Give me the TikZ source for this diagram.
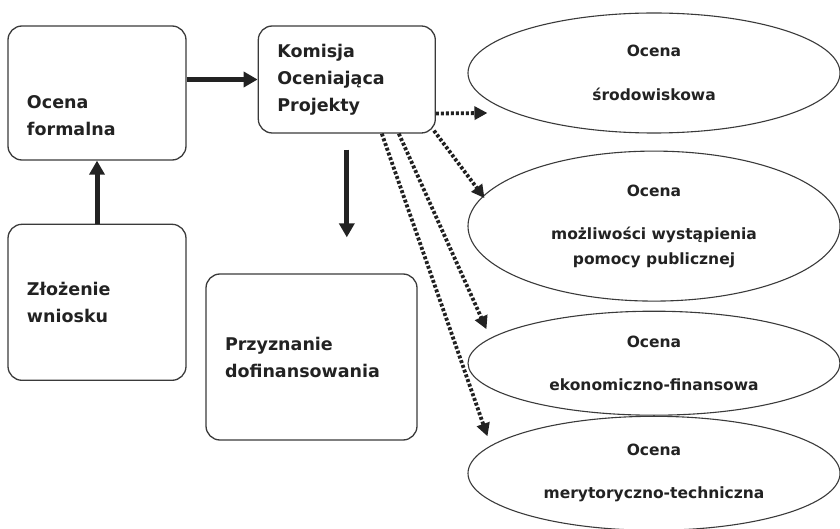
\documentclass[tikz,border=0pt]{standalone}
\usepackage{fontspec}
\setmainfont{DejaVu Sans}
\usetikzlibrary{positioning,shapes,arrows.meta}
\definecolor{ink}{HTML}{3A3A3A}
\definecolor{print}{HTML}{222222}
\tikzstyle{stage}=[draw=ink,line width=1.3pt,rounded corners=14pt,align=left,
  inner xsep=19pt,text=print,font=\bfseries\fontsize{17.5}{27}\selectfont]
\tikzstyle{assess}=[draw=ink,ellipse,line width=1.1pt,inner sep=0pt,minimum width=372pt,
  align=center,text=print,font=\bfseries\fontsize{15.5}{25}\selectfont]
\tikzstyle{pass}=[->,draw=print,line width=5pt]
\tikzstyle{review}=[-{Triangle[length=13pt,width=13pt]},draw=print,line width=3.8pt,
  dash pattern=on 3pt off 2pt]
\newcommand{\stagebox}[3]{\node[stage,#2] (#1) {#3};}
\newcommand{\flow}[3]{\draw[#3] (#1) -- (#2);}

\begin{document}
\begin{tikzpicture}[x=1pt,y=-1pt,node distance=63pt and 71pt,
      >={Triangle[length=14pt,width=15pt]}
      ]
      \useasboundingbox (0,0) rectangle (840,529);
      % etapy wniosku
      \stagebox{formalna}{at={(97,93)},minimum width=178pt,minimum height=134pt,text width=140pt}{\mbox{}\\[31pt]Ocena\\formalna}
      \stagebox{zlozenie}{below=of formalna,minimum width=178pt,minimum height=156pt,text width=140pt}{Złożenie\\wniosku}
      \stagebox{komisja}{right=of formalna.north east,anchor=north west,minimum width=177pt,minimum height=107pt,text width=139pt}{Komisja\\Oceniająca\\Projekty}
      \stagebox{przyznanie}{at={(311.5,357)},minimum width=211pt,minimum height=166pt,text width=173pt}{Przyznanie\\dofinansowania}
      
      % oceny
      \node[assess,minimum height=120pt] (srod) at (654,73) {Ocena\\[19pt]środowiskowa};
      \node[assess,minimum height=150pt,below=17pt of srod] (pomoc) {Ocena\\[18pt]możliwości wystąpienia\\pomocy publicznej};
      \node[assess,minimum height=104pt,below=9pt of pomoc] (ekon) {Ocena\\[18pt]ekonomiczno-finansowa};
      \node[assess,minimum height=114pt,below=0pt of ekon] (meryt) {Ocena\\[18pt]merytoryczno-techniczna};
      
      \flow{zlozenie}{formalna}{pass}
      \flow{formalna.east |- komisja}{komisja}{pass}
      \flow{komisja}{komisja |- przyznanie.north}{pass,shorten <=16pt,shorten >=36pt}
      
      \flow{[yshift=-34pt]komisja.east}{[xshift=20pt,yshift=-40pt]srod.west}{review}
      \flow{[xshift=-2pt,yshift=3pt]komisja.south east}{[xshift=17pt,yshift=28pt]pomoc.west}{review}
      \flow{[xshift=52pt]komisja.south}{[xshift=19pt,yshift=34pt]ekon.west}{review}
      \flow{[xshift=35pt]komisja.south}{[xshift=20pt,yshift=37pt]meryt.west}{review}
    \end{tikzpicture}
\end{document}
